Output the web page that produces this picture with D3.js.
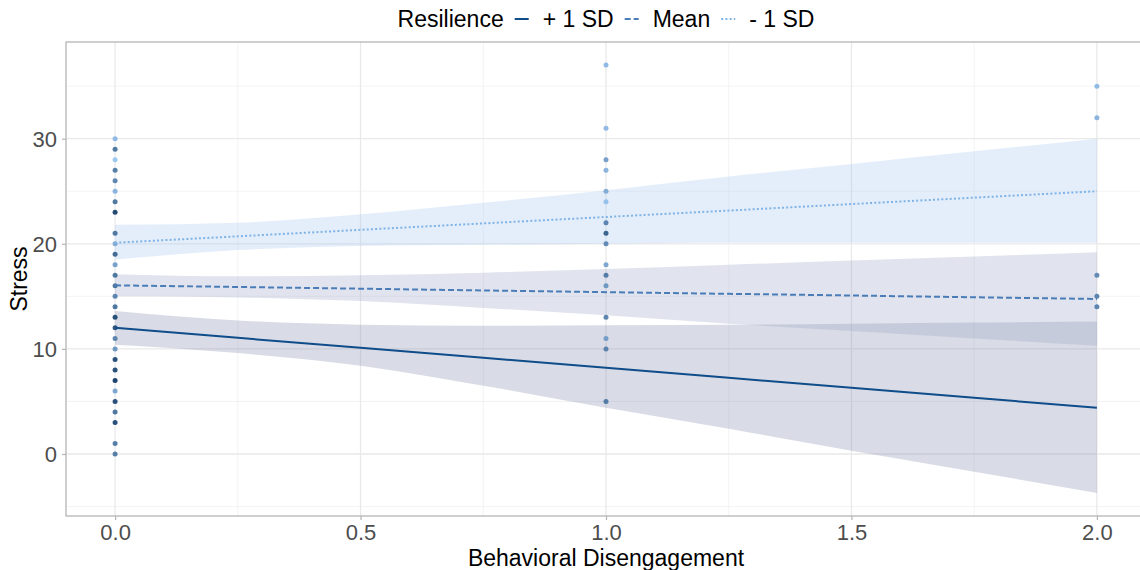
<!DOCTYPE html>
<html lang="en">
<head>
<meta charset="UTF-8">
<title>Stress by Behavioral Disengagement and Resilience</title>
<style>
    body { margin: 0; background: #fff; }
    svg { display: block; font-family: "Liberation Sans", Arial, sans-serif; }
</style>
</head>
<body>
<script src="https://d3js.org/d3.v7.min.js"></script>
<script>
    // ---- data ----
    const xTicks = [0, 0.5, 1, 1.5, 2]
    const xMinor = [0.25, 0.75, 1.25, 1.75]
    const yTicks = [0, 10, 20, 30]
    const yMinor = [-5, 5, 15, 25, 35]
    const legendLabels = ['+ 1 SD', 'Mean', '- 1 SD']

    // predictions / confidence bands, sampled along x
    const bandX = [0, 0.25, 0.5, 0.75, 1, 1.25, 1.5, 1.75, 2]
    const plusFit = [12.0, 11.05, 10.1, 9.15, 8.2, 7.25, 6.3, 5.35, 4.4]
    const plusLo = [10.4, 9.6, 8.4, 6.5, 4.4, 2.4, 0.3, -1.7, -3.7]
    const plusHi = [13.6, 12.7, 12.3, 12.2, 12.25, 12.3, 12.4, 12.5, 12.6]
    const meanFit = [16.05, 15.89, 15.73, 15.56, 15.4, 15.24, 15.08, 14.91, 14.75]
    const meanLo = [15.0, 14.9, 14.55, 13.9, 13.2, 12.4, 11.7, 11.0, 10.3]
    const meanHi = [17.1, 16.9, 17.0, 17.25, 17.6, 18.0, 18.4, 18.8, 19.2]
    const minusFit = [20.1, 20.71, 21.33, 21.94, 22.55, 23.16, 23.78, 24.39, 25.0]
    const minusLo = [18.5, 19.4, 19.8, 19.9, 20.0, 20.1, 20.1, 20.1, 20.1]
    const minusHi = [21.8, 22.0, 22.8, 23.9, 25.1, 26.4, 27.6, 28.8, 30.0]

    // raw observations: x, stress, resilience shade (0 = low / light, 1 = high / dark)
    const obsX = [
        0, 0, 0, 0, 0, 0, 0, 0, 0, 0, 0, 0, 0, 0, 0, 0, 0, 0, 0, 0, 0, 0, 0, 0, 0, 0, 0, 0, 0,
        1, 1, 1, 1, 1, 1, 1, 1, 1, 1, 1, 1, 1, 1, 1, 1,
        2, 2, 2, 2, 2
    ]
    const obsStress = [
        30, 29, 28, 27, 26, 25, 24, 23, 21, 20, 19, 18, 17, 16, 15, 14, 13, 12, 11, 10, 9, 8, 7, 6, 5, 4, 3, 1, 0,
        37, 31, 28, 27, 25, 24, 22, 21, 20, 18, 17, 16, 13, 11, 10, 5,
        35, 32, 17, 15, 14
    ]
    const obsShade = [
        0.1, 0.6, 0.0, 0.55, 0.5, 0.15, 0.6, 0.95, 0.6, 0.2, 0.7, 0.3, 0.6, 0.6, 0.5, 0.6, 0.9, 0.85, 0.5, 0.35, 0.9, 0.9, 1.0, 0.25, 0.9, 0.6, 0.9, 0.55, 0.55,
        0.1, 0.1, 0.3, 0.15, 0.2, 0.05, 0.5, 0.75, 0.45, 0.25, 0.55, 0.35, 0.5, 0.3, 0.5, 0.55,
        0.1, 0.15, 0.45, 0.5, 0.5
    ]

    // ---- layout ----
    const width = 1140
    const height = 570
    const panel = { left: 66, right: 1146, top: 42, bottom: 516 }
    const fontSize = 23
    const tickFont = 22

    const x = d3.scaleLinear().domain([-0.1, 2.1]).range([panel.left, panel.right])
    const y = d3.scaleLinear().domain([-5.9, 39.2]).range([panel.bottom, panel.top])
    const shade = d3.scaleLinear().domain([0, 1]).range(['#93c3f0', '#06305f'])

    const series = [
        { label: legendLabels[0], fit: plusFit, lo: plusLo, hi: plusHi, line: '#0f4c8a', fill: 'rgb(128,138,172)', dash: null },
        { label: legendLabels[1], fit: meanFit, lo: meanLo, hi: meanHi, line: '#4a7db8', fill: 'rgb(155,165,198)', dash: '6,3' },
        { label: legendLabels[2], fit: minusFit, lo: minusLo, hi: minusHi, line: '#7fb3e6', fill: 'rgb(165,198,242)', dash: '2,2.2' }
    ]

    const svg = d3.select('body').append('svg')
        .attr('width', width)
        .attr('height', height)

    svg.append('clipPath').attr('id', 'panel-clip')
        .append('rect')
        .attr('x', panel.left).attr('y', panel.top)
        .attr('width', panel.right - panel.left).attr('height', panel.bottom - panel.top)

    drawGrid()
    drawRibbons()
    drawPoints()
    drawLines()
    drawAxes()
    drawLegend()

    function drawGrid() {
        const g = svg.append('g').attr('clip-path', 'url(#panel-clip)')
        g.append('g').selectAll('line').data(xMinor).join('line')
            .attr('x1', d => x(d)).attr('x2', d => x(d))
            .attr('y1', panel.top).attr('y2', panel.bottom)
            .attr('stroke', '#f0f0f0').attr('stroke-width', 0.8)
        g.append('g').selectAll('line').data(yMinor).join('line')
            .attr('y1', d => y(d)).attr('y2', d => y(d))
            .attr('x1', panel.left).attr('x2', panel.right)
            .attr('stroke', '#f0f0f0').attr('stroke-width', 0.8)
        g.append('g').selectAll('line').data(xTicks).join('line')
            .attr('x1', d => x(d)).attr('x2', d => x(d))
            .attr('y1', panel.top).attr('y2', panel.bottom)
            .attr('stroke', '#e9e9e9').attr('stroke-width', 1.3)
        g.append('g').selectAll('line').data(yTicks).join('line')
            .attr('y1', d => y(d)).attr('y2', d => y(d))
            .attr('x1', panel.left).attr('x2', panel.right)
            .attr('stroke', '#e9e9e9').attr('stroke-width', 1.3)
    }

    function drawRibbons() {
        const area = d3.area()
            .x((_, i) => x(bandX[i]))
            .y0(d => y(d[0]))
            .y1(d => y(d[1]))
            .curve(d3.curveMonotoneX)

        svg.append('g').attr('clip-path', 'url(#panel-clip)')
            .selectAll('path')
            .data(series)
            .join('path')
            .attr('d', s => area(s.lo.map((v, i) => [v, s.hi[i]])))
            .attr('fill', s => s.fill)
            .attr('fill-opacity', 0.3)
    }

    function drawPoints() {
        svg.append('g')
            .selectAll('circle')
            .data(obsStress)
            .join('circle')
            .attr('cx', (_, i) => x(obsX[i]))
            .attr('cy', d => y(d))
            .attr('r', 2.5)
            .attr('fill', (_, i) => shade(obsShade[i]))
            .attr('fill-opacity', 0.9)
    }

    function drawLines() {
        const line = d3.line()
            .x((_, i) => x(bandX[i]))
            .y(d => y(d))

        svg.append('g')
            .selectAll('path')
            .data(series)
            .join('path')
            .attr('d', s => line(s.fit))
            .attr('fill', 'none')
            .attr('stroke', s => s.line)
            .attr('stroke-width', 2)
            .attr('stroke-dasharray', s => s.dash)
    }

    function drawAxes() {
        // panel border
        svg.append('rect')
            .attr('x', panel.left).attr('y', panel.top)
            .attr('width', panel.right - panel.left).attr('height', panel.bottom - panel.top)
            .attr('fill', 'none').attr('stroke', '#b5b5b5').attr('stroke-width', 1.3)

        const xAxis = svg.append('g')
            .attr('transform', `translate(0,${panel.bottom})`)
            .call(d3.axisBottom(x).tickValues(xTicks).tickFormat(d3.format('.1f')).tickSize(4).tickPadding(4))
        const yAxis = svg.append('g')
            .attr('transform', `translate(${panel.left},0)`)
            .call(d3.axisLeft(y).tickValues(yTicks).tickSize(4).tickPadding(5))

        ;[xAxis, yAxis].forEach(a => {
            a.select('.domain').remove()
            a.selectAll('.tick line').attr('stroke', '#b5b5b5').attr('stroke-width', 1.2)
            a.selectAll('.tick text')
                .attr('fill', '#4d4d4d')
                .style('font-size', tickFont + 'px')
                .style('font-family', '"Liberation Sans", Arial, sans-serif')
        })
        yAxis.selectAll('.tick text').attr('dy', '0.36em')

        svg.append('text')
            .attr('x', (panel.left + panel.right) / 2)
            .attr('y', 566)
            .attr('text-anchor', 'middle')
            .style('font-size', fontSize + 'px')
            .text('Behavioral Disengagement')

        svg.append('text')
            .attr('transform', `translate(27,${(panel.top + panel.bottom) / 2}) rotate(-90)`)
            .attr('text-anchor', 'middle')
            .style('font-size', fontSize + 'px')
            .text('Stress')
    }

    function drawLegend() {
        const g = svg.append('g')
        const baseY = 27
        const keyY = 19

        const title = g.append('text')
            .attr('x', 0).attr('y', baseY)
            .style('font-size', fontSize + 'px')
            .text('Resilience')
        let cursor = title.node().getComputedTextLength()

        series.forEach(s => {
            const keyCx = cursor + 18
            g.append('line')
                .attr('x1', keyCx - 7).attr('x2', keyCx + 7)
                .attr('y1', keyY).attr('y2', keyY)
                .attr('stroke', s.line)
                .attr('stroke-width', 2)
                .attr('stroke-dasharray', s.dash)
            const t = g.append('text')
                .attr('x', keyCx + 21).attr('y', baseY)
                .style('font-size', fontSize + 'px')
                .text(s.label)
            cursor = keyCx + 21 + t.node().getComputedTextLength()
        })

        const center = (panel.left + panel.right) / 2
        g.attr('transform', `translate(${center - cursor / 2},0)`)
    }
</script>
</body>
</html>
